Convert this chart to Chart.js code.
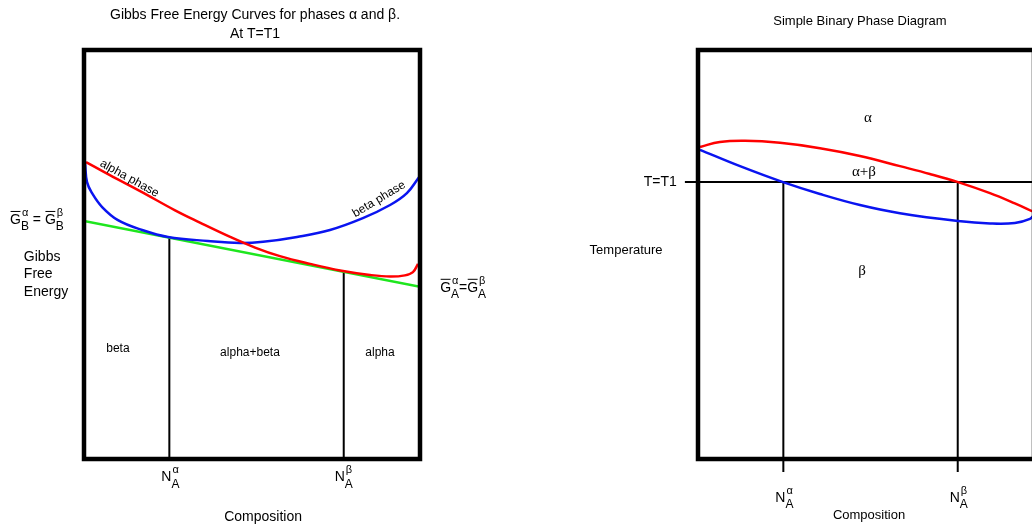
<!DOCTYPE html>
<html>
<head>
<meta charset="utf-8">
<title>Gibbs Free Energy Curves and Binary Phase Diagram</title>
<script src="https://cdn.jsdelivr.net/npm/chart.js@4.4.1/dist/chart.umd.min.js"></script>
<style>
  html, body {
    margin: 0;
    padding: 0;
    background: #fff;
    width: 1032px;
    height: 528px;
    overflow: hidden;
  }
  canvas {
    position: absolute;
    top: 0;
  }
  #gibbs { left: 0; }
  #phase { left: 580px; }
</style>
</head>
<body>
<canvas id="gibbs" width="516" height="528"></canvas>
<canvas id="phase" width="520" height="528"></canvas>
<script>
// compositions of the two phases in equilibrium at T1
const tieX = [0.254, 0.773];

// Gibbs free energy at T = T1 (arbitrary units)
const alphaX = [0.006, 0.077, 0.167, 0.271, 0.345, 0.435, 0.509, 0.583, 0.673, 0.762, 0.851, 0.911, 0.955, 0.979, 0.994];
const alphaG = [72.6, 69.4, 65.5, 60.8, 57.8, 54.3, 51.7, 49.6, 47.7, 46.1, 45.0, 44.6, 44.9, 45.7, 47.7];
const betaX = [0.003, 0.009, 0.024, 0.054, 0.101, 0.173, 0.250, 0.369, 0.464, 0.533, 0.634, 0.732, 0.830, 0.911, 0.961, 0.997];
const betaG = [72.4, 67.7, 65.0, 61.6, 58.4, 56.0, 54.3, 53.3, 52.8, 53.1, 54.3, 56.0, 58.9, 62.1, 65.0, 68.9];
const tangentX = [0, 1];
const tangentG = [58.2, 42.1];
const tieG = [54.3, 46.0];

// phase boundaries of the binary diagram
const upperX = [0.006, 0.065, 0.140, 0.244, 0.363, 0.482, 0.601, 0.690, 0.774, 0.869, 0.943, 1.0];
const upperT = [76.3, 77.5, 77.8, 77.3, 76.0, 74.1, 71.6, 69.7, 67.7, 65.0, 62.5, 60.4];
const lowerX = [0.006, 0.125, 0.253, 0.363, 0.482, 0.601, 0.774, 0.869, 0.943, 0.988, 1.0];
const lowerT = [75.6, 71.6, 67.7, 64.8, 62.1, 60.1, 58.2, 57.6, 57.7, 58.7, 59.7];
const T1 = 67.7;
const tickBottom = -3.2;
const isoStart = -0.039;

const SANS = "'Liberation Sans', Arial, sans-serif";
const SERIF = "'Liberation Serif', 'Times New Roman', serif";

function pts(xs, ys) {
  return xs.map((x, i) => ({ x: x, y: ys[i] }));
}

function line(data, color, width, extra) {
  return Object.assign({
    data: data,
    showLine: true,
    borderColor: color,
    borderWidth: width,
    pointRadius: 0,
    fill: false,
    tension: 0.4,
  }, extra || {});
}

// letter with optional overbar, subscript and superscript, e.g. G-bar_B^alpha
function drawSymbols(ctx, x, y, parts) {
  var cx = x;
  parts.forEach((p) => {
    if (p.text) {
      ctx.font = "14px " + SANS;
      ctx.fillText(p.text, cx, y);
      cx += ctx.measureText(p.text).width;
      return;
    }
    ctx.font = "14px " + SANS;
    ctx.fillText(p.base, cx, y);
    var w = ctx.measureText(p.base).width;
    if (p.bar) {
      ctx.lineWidth = 1;
      ctx.strokeStyle = "#000";
      ctx.beginPath();
      ctx.moveTo(cx + 0.5, y - 8.5);
      ctx.lineTo(cx + w - 0.5, y - 8.5);
      ctx.stroke();
    }
    ctx.font = "12px " + SANS;
    var subW = ctx.measureText(p.sub).width;
    ctx.fillText(p.sub, cx + w, y + 7);
    ctx.font = "11px " + SANS;
    var supW = ctx.measureText(p.sup).width;
    ctx.fillText(p.sup, cx + w + 1, y - 7);
    cx += w + Math.max(subW, supW + 1);
  });
}

const notesPlugin = {
  id: "notes",
  afterDatasetsDraw(chart, args, opts) {
    var ctx = chart.ctx;
    var a = chart.chartArea;
    ctx.save();
    ctx.lineWidth = 4.5;
    ctx.strokeStyle = "#000";
    ctx.strokeRect(a.left, a.top, a.right - a.left, a.bottom - a.top);
    ctx.restore();
  },
  afterDraw(chart, args, opts) {
    var ctx = chart.ctx;
    var sx = chart.scales.x;
    var sy = chart.scales.y;
    (opts.items || []).forEach((n) => {
      var px = sx.getPixelForValue(n.x) + (n.dx || 0);
      var py = sy.getPixelForValue(n.y) + (n.dy || 0);
      ctx.save();
      ctx.fillStyle = "#000";
      ctx.textBaseline = "middle";
      if (n.parts) {
        ctx.textAlign = "left";
        drawSymbols(ctx, px, py, n.parts);
      } else {
        ctx.font = (n.size || 14) + "px " + (n.family || SANS);
        ctx.textAlign = n.align || "center";
        ctx.translate(px, py);
        if (n.rotate) ctx.rotate((n.rotate * Math.PI) / 180);
        ctx.fillText(n.text, 0, 0);
      }
      ctx.restore();
    });
  },
};

function baseOptions(padding, items) {
  return {
    responsive: false,
    animation: false,
    devicePixelRatio: 1,
    layout: { padding: padding },
    scales: {
      x: { type: "linear", min: 0, max: 1, display: false },
      y: { type: "linear", min: 0, max: 100, display: false },
    },
    plugins: {
      legend: { display: false },
      tooltip: { enabled: false },
      notes: { items: items },
    },
  };
}

// left: Gibbs free energy curves
var gibbsNotes = [
  { text: "Gibbs Free Energy Curves for phases \u03b1 and \u03b2.", x: 0.509, y: 108.6 },
  { text: "At T=T1", x: 0.509, y: 103.9 },
  { text: "alpha phase", x: 0.135, y: 68.6, size: 12, rotate: 29 },
  { text: "beta phase", x: 0.878, y: 63.5, size: 12, rotate: -31 },
  { text: "beta", x: 0.101, y: 26.9, size: 12 },
  { text: "alpha+beta", x: 0.494, y: 25.9, size: 12 },
  { text: "alpha", x: 0.881, y: 25.9, size: 12 },
  { text: "Gibbs", x: -0.179, y: 49.4, align: "left" },
  { text: "Free", x: -0.179, y: 45.2, align: "left" },
  { text: "Energy", x: -0.179, y: 40.8, align: "left" },
  { text: "Composition", x: 0.533, y: -14.2 },
  {
    x: -0.220, y: tangentG[0], dy: -1,
    parts: [
      { base: "G", bar: true, sub: "B", sup: "\u03b1" },
      { text: " = " },
      { base: "G", bar: true, sub: "B", sup: "\u03b2" },
    ],
  },
  {
    x: 1.060, y: tangentG[1], dy: 1,
    parts: [
      { base: "G", bar: true, sub: "A", sup: "\u03b1" },
      { text: "=" },
      { base: "G", bar: true, sub: "A", sup: "\u03b2" },
    ],
  },
  { x: tieX[0], y: -4.5, dx: -8, parts: [{ base: "N", sub: "A", sup: "\u03b1" }] },
  { x: tieX[1], y: -4.5, dx: -9, parts: [{ base: "N", sub: "A", sup: "\u03b2" }] },
];

new Chart(document.getElementById("gibbs"), {
  type: "scatter",
  data: {
    datasets: [
      line(pts(alphaX, alphaG), "#ff0000", 2.5),
      line(pts(betaX, betaG), "#0a14f0", 2.5),
      line(pts(tangentX, tangentG), "#1ee61e", 2.5, { tension: 0 }),
      line(pts([tieX[0], tieX[0]], [tieG[0], 0]), "#000", 2, { tension: 0 }),
      line(pts([tieX[1], tieX[1]], [tieG[1], 0]), "#000", 2, { tension: 0 }),
    ],
  },
  options: baseOptions({ left: 84, top: 50, right: 96, bottom: 69 }, gibbsNotes),
  plugins: [notesPlugin],
});

// right: simple binary phase diagram
var phaseNotes = [
  { text: "Simple Binary Phase Diagram", x: 0.482, y: 107.1, size: 13 },
  { text: "\u03b1", x: 0.506, y: 83.4, size: 15, family: SERIF },
  { text: "\u03b1+\u03b2", x: 0.494, y: 70.2, size: 15, family: SERIF },
  { text: "\u03b2", x: 0.488, y: 46.0, size: 15, family: SERIF },
  { text: "T=T1", x: -0.063, y: T1, align: "right" },
  { text: "Temperature", x: -0.214, y: 51.1, size: 13 },
  { text: "Composition", x: 0.509, y: -13.9, size: 13 },
  { x: tieX[0], y: -9.5, dx: -8, parts: [{ base: "N", sub: "A", sup: "\u03b1" }] },
  { x: tieX[1], y: -9.5, dx: -8, parts: [{ base: "N", sub: "A", sup: "\u03b2" }] },
];

new Chart(document.getElementById("phase"), {
  type: "scatter",
  data: {
    datasets: [
      line(pts(upperX, upperT), "#ff0000", 2.5),
      line(pts(lowerX, lowerT), "#0a14f0", 2.5),
      line(pts([isoStart, 1], [T1, T1]), "#000", 2, { clip: false, tension: 0 }),
      line(pts([tieX[0], tieX[0]], [T1, tickBottom]), "#000", 2, { clip: false, tension: 0 }),
      line(pts([tieX[1], tieX[1]], [T1, tickBottom]), "#000", 2, { clip: false, tension: 0 }),
    ],
  },
  options: baseOptions({ left: 118, top: 50, right: 66, bottom: 69 }, phaseNotes),
  plugins: [notesPlugin],
});
</script>
</body>
</html>
